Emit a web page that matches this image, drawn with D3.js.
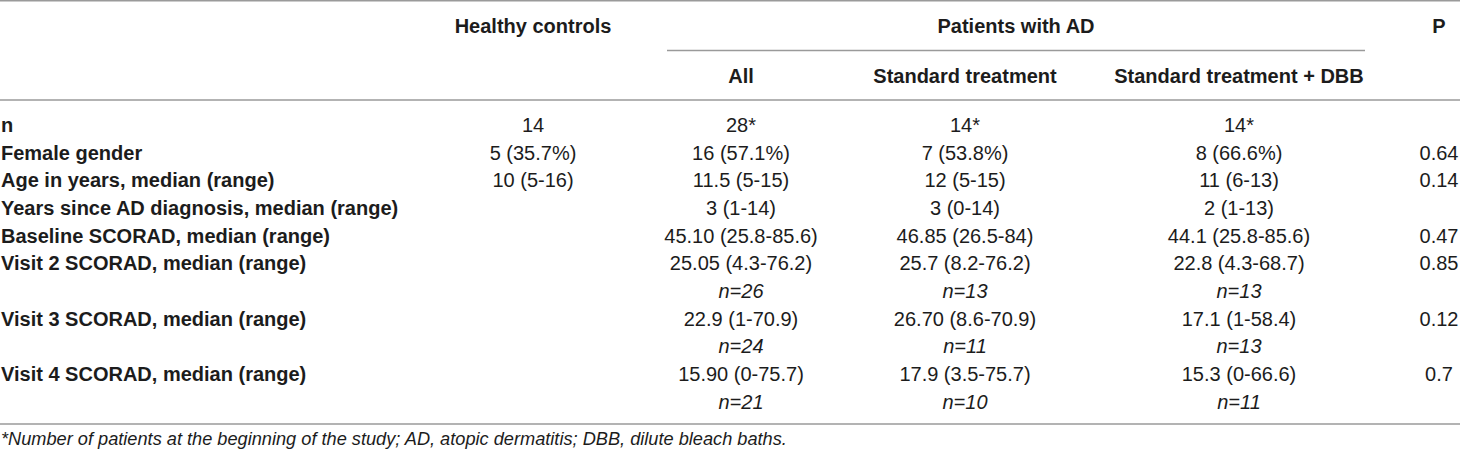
<!DOCTYPE html>
<html>
<head>
<meta charset="utf-8">
<script src="https://cdn.jsdelivr.net/npm/d3@7"></script>
<style>
  body { margin: 0; background: #fff; }
  text { font-family: "Liberation Sans", Arial, Helvetica, sans-serif; }
</style>
</head>
<body>
<div id="table"></div>
<script>
// table contents
const groupHeaders = ["Healthy controls", "Patients with AD", "P"];
const columns = ["Healthy controls", "All", "Standard treatment", "Standard treatment + DBB", "P"];
const subHeaders = ["All", "Standard treatment", "Standard treatment + DBB"];
const rowLabels = ["n", "Female gender", "Age in years, median (range)",
    "Years since AD diagnosis, median (range)", "Baseline SCORAD, median (range)",
    "Visit 2 SCORAD, median (range)", "Visit 3 SCORAD, median (range)",
    "Visit 4 SCORAD, median (range)"];
const healthy = ["14", "5 (35.7%)", "10 (5-16)", "", "", "", "", ""];
const allAD = ["28*", "16 (57.1%)", "11.5 (5-15)", "3 (1-14)", "45.10 (25.8-85.6)",
    "25.05 (4.3-76.2)", "22.9 (1-70.9)", "15.90 (0-75.7)"];
const standard = ["14*", "7 (53.8%)", "12 (5-15)", "3 (0-14)", "46.85 (26.5-84)",
    "25.7 (8.2-76.2)", "26.70 (8.6-70.9)", "17.9 (3.5-75.7)"];
const standardDBB = ["14*", "8 (66.6%)", "11 (6-13)", "2 (1-13)", "44.1 (25.8-85.6)",
    "22.8 (4.3-68.7)", "17.1 (1-58.4)", "15.3 (0-66.6)"];
const pValues = ["", "0.64", "0.14", "", "0.47", "0.85", "0.12", "0.7"];
// second (italic) line under the SCORAD visits
const allN = ["", "", "", "", "", "n=26", "n=24", "n=21"];
const standardN = ["", "", "", "", "", "n=13", "n=11", "n=10"];
const dbbN = ["", "", "", "", "", "n=13", "n=13", "n=11"];
const footnote = "*Number of patients at the beginning of the study; AD, atopic dermatitis; DBB, dilute bleach baths.";

const w = 1460, h = 455;
const lineColor = "#9a9a9a";
const textColor = "#1c1c1c";

const svg = d3.select("#table").append("svg")
    .attr("width", w)
    .attr("height", h);

// line index for each row (rows with an n= line take two)
let lineIdx = [];
let k = 0;
for (let i = 0; i < rowLabels.length; i++) {
    lineIdx.push(k);
    k += allN[i] ? 2 : 1;
}
const y = d3.scaleLinear()
    .domain([0, k - 1])
    .range([132, 408.5]);

const x = d3.scaleOrdinal()
    .domain(columns)
    .range([533, 741, 965, 1239, 1439]);

// rules
const rules = [
    {x1: 0, x2: w, y: 0.75},
    {x1: x("All") - 74, x2: x("Standard treatment + DBB") + 126, y: 50.5},
    {x1: 0, x2: w, y: 100},
    {x1: 0, x2: w, y: 424}
];
svg.selectAll("line.rule")
    .data(rules)
    .enter()
    .append("line")
    .attr("class", "rule")
    .attr("x1", d => d.x1)
    .attr("x2", d => d.x2)
    .attr("y1", d => d.y)
    .attr("y2", d => d.y)
    .attr("stroke", lineColor)
    .attr("stroke-width", 1.5);

// header row 1
const groupX = [x("Healthy controls"), (x("All") - 74 + x("Standard treatment + DBB") + 126) / 2, x("P")];
svg.selectAll("text.group")
    .data(groupHeaders)
    .enter()
    .append("text")
    .attr("class", "group")
    .attr("x", (d, i) => groupX[i])
    .attr("y", 33)
    .attr("text-anchor", "middle")
    .attr("font-size", "20px")
    .attr("font-weight", "bold")
    .attr("fill", textColor)
    .text(d => d);

// header row 2
svg.selectAll("text.sub")
    .data(subHeaders)
    .enter()
    .append("text")
    .attr("class", "sub")
    .attr("x", d => x(d))
    .attr("y", 83)
    .attr("text-anchor", "middle")
    .attr("font-size", "20px")
    .attr("font-weight", "bold")
    .attr("fill", textColor)
    .text(d => d);

// row labels
svg.selectAll("text.label")
    .data(rowLabels)
    .enter()
    .append("text")
    .attr("class", "label")
    .attr("x", 1)
    .attr("y", (d, i) => y(lineIdx[i]))
    .attr("font-size", "20px")
    .attr("font-weight", "bold")
    .attr("fill", textColor)
    .text(d => d);

// cells
const series = [
    {col: "Healthy controls", vals: healthy, ns: null},
    {col: "All", vals: allAD, ns: allN},
    {col: "Standard treatment", vals: standard, ns: standardN},
    {col: "Standard treatment + DBB", vals: standardDBB, ns: dbbN},
    {col: "P", vals: pValues, ns: null}
];
let cells = [];
series.forEach(s => {
    s.vals.forEach((v, i) => {
        if (v) cells.push({col: s.col, line: lineIdx[i], text: v, italic: false});
        if (s.ns && s.ns[i]) cells.push({col: s.col, line: lineIdx[i] + 1, text: s.ns[i], italic: true});
    });
});
svg.selectAll("text.cell")
    .data(cells)
    .enter()
    .append("text")
    .attr("class", "cell")
    .attr("x", d => x(d.col))
    .attr("y", d => y(d.line))
    .attr("text-anchor", "middle")
    .attr("font-size", "20px")
    .attr("font-style", d => d.italic ? "italic" : "normal")
    .attr("fill", textColor)
    .text(d => d.text);

// footnote
svg.append("text")
    .attr("x", 1)
    .attr("y", 445)
    .attr("font-size", "18.2px")
    .attr("font-style", "italic")
    .attr("fill", textColor)
    .text(footnote);
</script>
</body>
</html>
